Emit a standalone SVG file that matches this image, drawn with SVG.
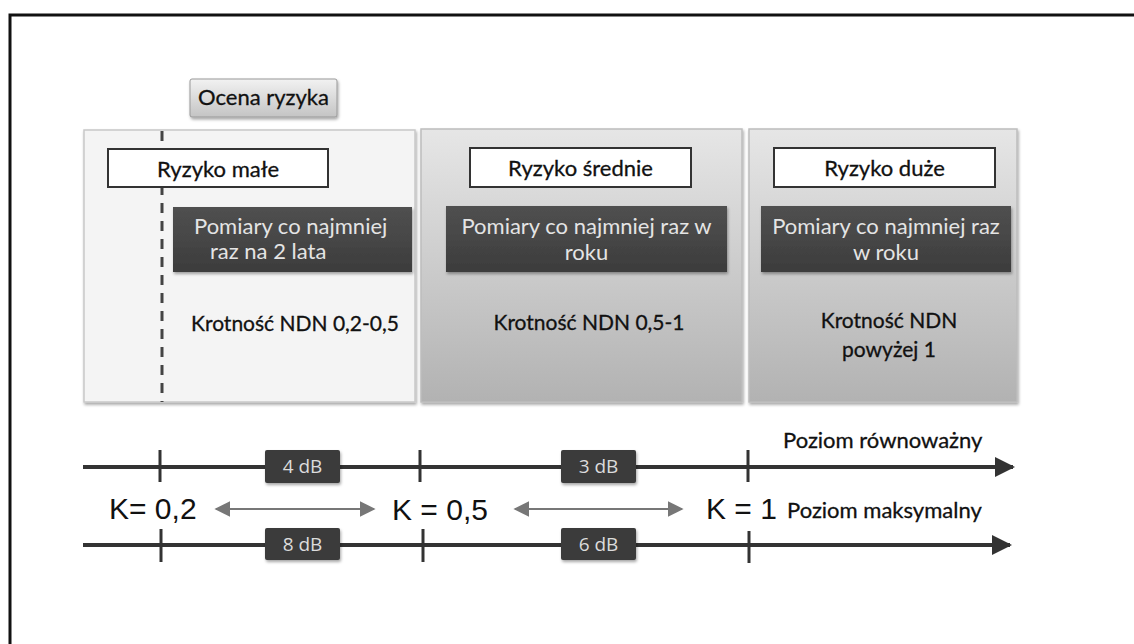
<svg xmlns="http://www.w3.org/2000/svg" width="1134" height="644" viewBox="0 0 1134 644">
  <defs>
    <linearGradient id="panelGrad" x1="0" y1="0" x2="0" y2="1">
      <stop offset="0" stop-color="#e6e6e6"/>
      <stop offset="1" stop-color="#b2b2b2"/>
    </linearGradient>
    <linearGradient id="btnGrad" x1="0" y1="0" x2="0" y2="1">
      <stop offset="0" stop-color="#f2f2f2"/>
      <stop offset="1" stop-color="#c4c4c4"/>
    </linearGradient>
    <linearGradient id="darkGrad" x1="0" y1="0" x2="0" y2="1">
      <stop offset="0" stop-color="#505050"/>
      <stop offset="1" stop-color="#3c3c3c"/>
    </linearGradient>
    <filter id="shadow" x="-5%" y="-5%" width="110%" height="120%">
      <feDropShadow dx="1" dy="2" stdDeviation="1.5" flood-color="#000" flood-opacity="0.35"/>
    </filter>
    <marker id="axisHead" viewBox="0 0 10 10" refX="9" refY="5" markerWidth="5" markerHeight="5" orient="auto" markerUnits="strokeWidth">
      <path d="M0,0 L10,5 L0,10 z" fill="#333"/>
    </marker>
    <marker id="grayHead" viewBox="0 0 10 10" refX="9" refY="5" markerWidth="8" markerHeight="8" orient="auto-start-reverse" markerUnits="strokeWidth">
      <path d="M0,0 L10,5 L0,10 z" fill="#777"/>
    </marker>
  </defs>
  <style>
    .cal { font-family: Lato, "Noto Sans", "Liberation Sans", sans-serif; }
    .label { font-size: 22px; fill: #111; stroke: #111; stroke-width: 0.3; text-anchor: middle; }
    .ndn { font-size: 21px; }
    .lite { font-size: 22px; fill: #e4e4e4; }
    .db { font-family: "Open Sans", "Liberation Sans", sans-serif; font-size: 19px; fill: #dcdcdc; text-anchor: middle; }
    .k { font-family: "Liberation Sans", Arial, sans-serif; font-size: 30px; fill: #111; }
    .axis { stroke: #333; stroke-width: 4; fill: none; }
    .tick { stroke: #333; stroke-width: 3; }
    .range { stroke: #777; stroke-width: 2; fill: none; }
    .hdr { fill: #fff; stroke: #333; stroke-width: 2; }
    .dark { fill: url(#darkGrad); filter: url(#shadow); }
    .dbbox { fill: #3a3a3a; filter: url(#shadow); }
    .title { font-size: 22px; fill: #111; stroke: #111; stroke-width: 0.3; }
  </style>

  <!-- frame -->
  <path d="M10,644 V15 H1134" fill="none" stroke="#111" stroke-width="3"/>

  <!-- risk assessment title -->
  <g id="ocena">
    <rect x="190" y="79" width="147" height="38" rx="2" fill="url(#btnGrad)" stroke="#999" stroke-width="1" filter="url(#shadow)"/>
    <text class="cal label" x="263.5" y="105">Ocena ryzyka</text>
  </g>

  <!-- low risk column -->
  <g id="ryzyko-male">
    <rect x="84" y="130" width="331" height="272" fill="#f4f4f4" stroke="#c8c8c8" stroke-width="1.5" filter="url(#shadow)"/>
    <line x1="162" y1="131" x2="162" y2="402" stroke="#444" stroke-width="3" stroke-dasharray="10,8"/>
    <rect class="hdr" x="108" y="149" width="220" height="38"/>
    <text class="cal label" x="218" y="177">Ryzyko małe</text>
    <rect class="dark" x="173" y="207" width="239" height="65"/>
    <text class="cal lite" x="194" y="234">Pomiary co najmniej</text>
    <text class="cal lite" x="210" y="259">raz na 2 lata</text>
    <text class="cal label ndn" x="295" y="331">Krotność NDN 0,2-0,5</text>
  </g>

  <!-- medium risk column -->
  <g id="ryzyko-srednie">
    <rect x="421" y="129" width="321" height="273" fill="url(#panelGrad)" stroke="#bdbdbd" stroke-width="1.5" filter="url(#shadow)"/>
    <rect class="hdr" x="470" y="148" width="221" height="39"/>
    <text class="cal label" x="580.5" y="176">Ryzyko średnie</text>
    <rect class="dark" x="446" y="206" width="281" height="66"/>
    <text class="cal lite" x="586.5" y="234" text-anchor="middle">Pomiary co najmniej raz w</text>
    <text class="cal lite" x="586.5" y="260" text-anchor="middle">roku</text>
    <text class="cal label ndn" x="589" y="330">Krotność NDN 0,5-1</text>
  </g>

  <!-- high risk column -->
  <g id="ryzyko-duze">
    <rect x="749" y="129" width="268" height="273" fill="url(#panelGrad)" stroke="#bdbdbd" stroke-width="1.5" filter="url(#shadow)"/>
    <rect class="hdr" x="774" y="148" width="221" height="39"/>
    <text class="cal label" x="884.5" y="176">Ryzyko duże</text>
    <rect class="dark" x="761" y="206" width="250" height="66"/>
    <text class="cal lite" x="886" y="234" text-anchor="middle">Pomiary co najmniej raz</text>
    <text class="cal lite" x="886" y="260" text-anchor="middle">w roku</text>
    <text class="cal label ndn" x="889" y="328">Krotność NDN</text>
    <text class="cal label ndn" x="889" y="357">powyżej 1</text>
  </g>

  <!-- level axes, ticks and ranges -->
  <g id="connectors">
    <line class="axis" x1="83" y1="467" x2="1013" y2="467" marker-end="url(#axisHead)"/>
    <line class="axis" x1="83" y1="545" x2="1010" y2="545" marker-end="url(#axisHead)"/>
    <line class="tick" x1="160" y1="450" x2="160" y2="482"/>
    <line class="tick" x1="420" y1="450" x2="420" y2="482"/>
    <line class="tick" x1="748" y1="450" x2="748" y2="482"/>
    <line class="tick" x1="161" y1="529" x2="161" y2="562"/>
    <line class="tick" x1="423" y1="529" x2="423" y2="562"/>
    <line class="tick" x1="749" y1="531" x2="749" y2="563"/>
    <line class="range" x1="216" y1="509" x2="374" y2="509" marker-start="url(#grayHead)" marker-end="url(#grayHead)"/>
    <line class="range" x1="515" y1="509" x2="682" y2="509" marker-start="url(#grayHead)" marker-end="url(#grayHead)"/>
  </g>

  <g id="db-upper">
    <rect class="dbbox" x="265" y="450" width="75" height="33" rx="2"/>
    <text class="db" x="302.5" y="473">4 dB</text>
    <rect class="dbbox" x="561" y="450" width="75" height="33" rx="2"/>
    <text class="db" x="598.5" y="473">3 dB</text>
  </g>
  <g id="db-lower">
    <rect class="dbbox" x="265" y="528" width="75" height="32" rx="2"/>
    <text class="db" x="302.5" y="551">8 dB</text>
    <rect class="dbbox" x="561" y="528" width="75" height="32" rx="2"/>
    <text class="db" x="598.5" y="551">6 dB</text>
  </g>

  <g id="k-labels">
    <text class="k" x="109" y="519">K= 0,2</text>
    <text class="k" x="392" y="520">K = 0,5</text>
    <text class="k" x="706" y="519">K = 1</text>
  </g>

  <g id="axis-titles">
    <text class="cal title" x="783" y="448">Poziom równoważny</text>
    <text class="cal title" x="787" y="518">Poziom maksymalny</text>
  </g>
</svg>
